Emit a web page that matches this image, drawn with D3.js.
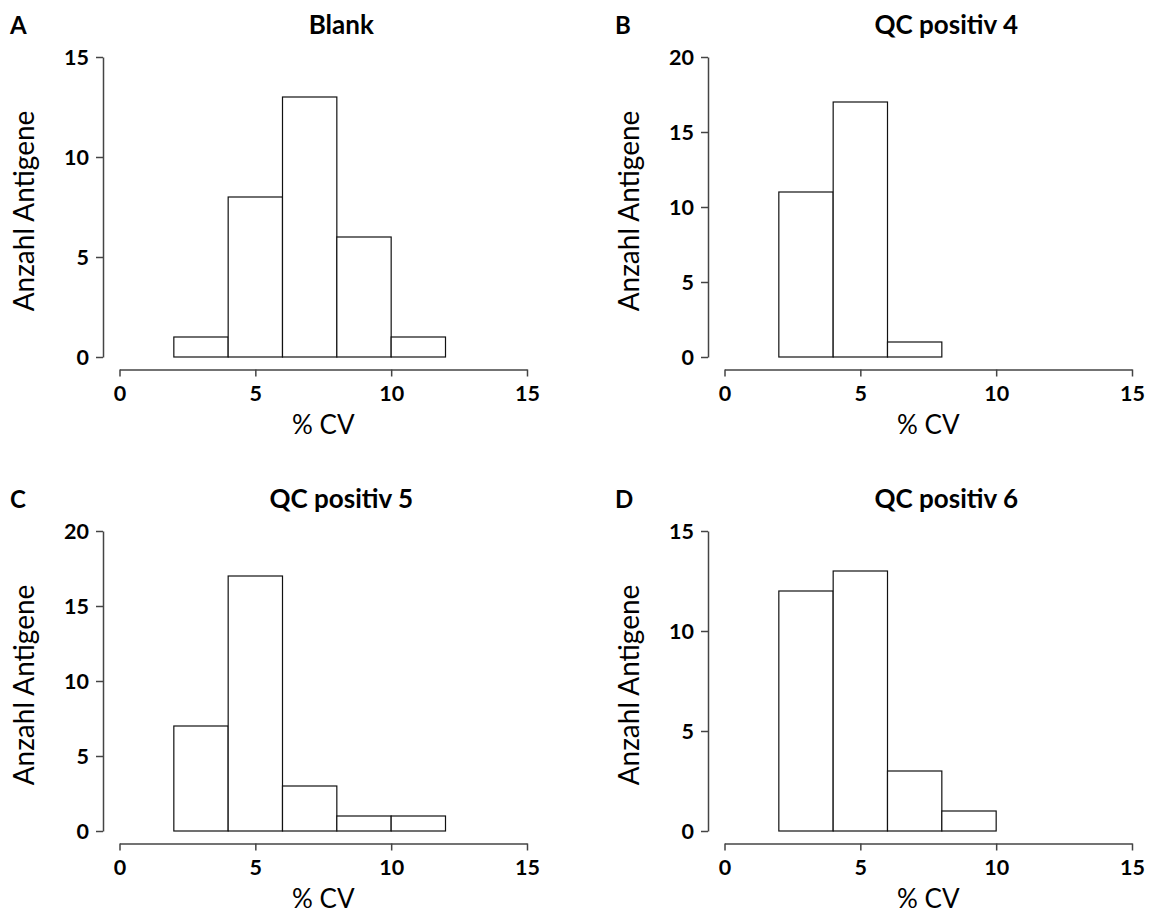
<!DOCTYPE html>
<html><head><meta charset="utf-8">
<script src="https://cdn.jsdelivr.net/npm/d3@7"></script>
<style>body{margin:0;background:#fff}svg{display:block}text{font-family:Lato,"Open Sans",sans-serif}</style>
</head><body>
<script>
// Data
const binEdges = [2, 4, 6, 8, 10, 12];
const panelLetters = ["A", "B", "C", "D"];
const panelTitles = ["Blank", "QC positiv 4", "QC positiv 5", "QC positiv 6"];
const countsBlank = [1, 8, 13, 6, 1];
const countsQC4 = [11, 17, 1];
const countsQC5 = [7, 17, 3, 1, 1];
const countsQC6 = [12, 13, 3, 1];
const yMax = [15, 20, 20, 15];
const yTicksA = [0, 5, 10, 15];
const yTicksB = [0, 5, 10, 15, 20];
const xTicks = [0, 5, 10, 15];
const xLabel = "% CV";
const yLabel = "Anzahl Antigene";

const allCounts = [countsBlank, countsQC4, countsQC5, countsQC6];
const allYTicks = [yTicksA, yTicksB, yTicksB, yTicksA];

const W = 1151, H = 914;
const svg = d3.select("body").append("svg").attr("width", W).attr("height", H);

const offsets = [[0, 0], [605, 0], [0, 474], [605, 474]];
const axisColor = "#444";

allCounts.forEach((counts, i) => {
  const [ox, oy] = offsets[i];
  const g = svg.append("g").attr("transform", `translate(${ox},${oy})`);
  const x = d3.scaleLinear().domain([0, 15]).range([119.5, 527]);
  const y = d3.scaleLinear().domain([0, yMax[i]]).range([357, 57]);

  // bars
  const bins = counts.map((c, k) => ({x0: binEdges[k], x1: binEdges[k + 1], c}));
  g.selectAll("rect.bar").data(bins).join("rect")
    .attr("x", d => x(d.x0)).attr("width", d => x(d.x1) - x(d.x0))
    .attr("y", d => y(d.c)).attr("height", d => y(0) - y(d.c))
    .attr("fill", "#fff").attr("stroke", "#111").attr("stroke-width", 1.2);

  // y axis
  const ya = g.append("g").attr("transform", "translate(103,0)")
    .call(d3.axisLeft(y).tickValues(allYTicks[i]).tickSize(7).tickPadding(7).tickSizeOuter(0));
  // x axis
  const xa = g.append("g").attr("transform", "translate(0,369.5)")
    .call(d3.axisBottom(x).tickValues(xTicks).tickSize(7).tickPadding(5).tickSizeOuter(0));
  [ya, xa].forEach(a => {
    a.select(".domain").attr("stroke", axisColor).attr("stroke-width", 1.5);
    a.selectAll(".tick line").attr("stroke", axisColor).attr("stroke-width", 1.5);
    a.selectAll(".tick text").attr("fill", "#000").attr("font-size", 21.5).attr("font-weight", "bold");
  });
  xa.selectAll(".tick text").attr("dy", "0.9em");
  ya.selectAll(".tick text").attr("dy", "0.36em");

  // labels
  g.append("text").attr("x", (x(0) + x(15)) / 2).attr("y", 434)
    .attr("text-anchor", "middle").attr("font-size", 26).text(xLabel);
  g.append("text").attr("transform", `translate(34,211) rotate(-90)`)
    .attr("text-anchor", "middle").attr("font-size", 28).text(yLabel);
  g.append("text").attr("x", (x(0) + x(15)) / 2 + 18).attr("y", 34)
    .attr("text-anchor", "middle").attr("font-size", 26).attr("font-weight", "bold").text(panelTitles[i]);
  g.append("text").attr("x", 10).attr("y", 34)
    .attr("font-size", 24).attr("font-weight", "bold").text(panelLetters[i]);
});
</script>
</body></html>
